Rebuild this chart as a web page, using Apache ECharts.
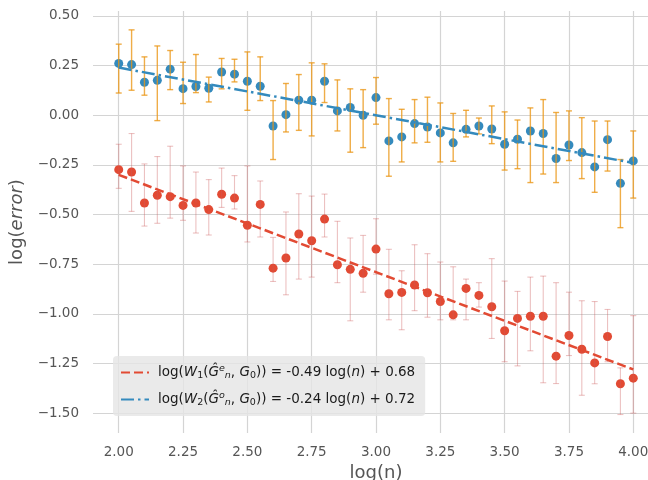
<!DOCTYPE html>
<html>
<head>
<meta charset="utf-8">
<script src="https://cdn.jsdelivr.net/npm/echarts@6/dist/echarts.min.js"></script>
<style>
html,body{margin:0;padding:0;background:#fff;}
#chart{width:648px;height:480px;}
</style>
</head>
<body>
<div id="chart"></div>
<script>
// ---- data ----
var xs = [2.00,2.05,2.10,2.15,2.20,2.25,2.30,2.35,2.40,2.45,2.50,2.55,2.60,2.65,2.70,2.75,2.80,2.85,2.90,2.95,3.00,
          3.05,3.10,3.15,3.20,3.25,3.30,3.35,3.40,3.45,3.50,3.55,3.60,3.65,3.70,3.75,3.80,3.85,3.90,3.95,4.00];

var blueMean = [0.261,0.255,0.166,0.176,0.232,0.134,0.145,0.136,0.218,0.207,0.171,0.146,-0.054,0.003,0.076,0.076,0.171,0.022,0.039,0.000,0.089,
                -0.129,-0.109,-0.042,-0.059,-0.089,-0.139,-0.071,-0.054,-0.069,-0.146,-0.121,-0.079,-0.092,-0.218,-0.150,-0.188,-0.260,-0.123,-0.343,-0.230];
var blueHigh = [0.358,0.430,0.294,0.349,0.326,0.267,0.306,0.192,0.286,0.282,0.319,0.294,0.074,0.160,0.205,0.264,0.259,0.178,0.133,0.129,0.190,
                0.084,0.030,0.079,0.091,0.062,0.009,0.025,-0.014,0.047,0.017,-0.024,0.037,0.079,0.014,0.022,-0.012,-0.029,-0.029,-0.223,-0.079];
var blueLow  = [0.112,0.126,0.101,-0.027,0.129,0.059,0.114,0.067,0.133,0.168,0.025,0.074,-0.223,-0.084,-0.076,-0.104,0.064,-0.079,-0.186,-0.163,-0.045,
                -0.307,-0.235,-0.139,-0.136,-0.235,-0.232,-0.109,-0.094,-0.143,-0.276,-0.269,-0.339,-0.296,-0.339,-0.228,-0.319,-0.388,-0.281,-0.566,-0.417];

var redMean = [-0.274,-0.286,-0.442,-0.403,-0.410,-0.454,-0.442,-0.475,-0.398,-0.417,-0.554,-0.449,-0.770,-0.719,-0.598,-0.632,-0.523,-0.753,-0.776,-0.796,-0.674,
               -0.899,-0.892,-0.855,-0.894,-0.938,-1.005,-0.872,-0.907,-0.964,-1.085,-1.023,-1.012,-1.012,-1.213,-1.109,-1.178,-1.247,-1.114,-1.352,-1.324];
var redHigh = [-0.146,-0.092,-0.245,-0.208,-0.156,-0.255,-0.286,-0.324,-0.266,-0.304,-0.255,-0.331,-0.615,-0.487,-0.395,-0.407,-0.397,-0.534,-0.618,-0.605,-0.521,
               -0.675,-0.783,-0.652,-0.697,-0.739,-0.763,-0.825,-0.843,-0.722,-0.835,-0.887,-0.815,-0.810,-0.843,-0.891,-0.934,-0.938,-0.978,-1.272,-1.009];
var redLow  = [-0.368,-0.484,-0.558,-0.544,-0.518,-0.529,-0.593,-0.603,-0.464,-0.472,-0.638,-0.613,-0.837,-0.904,-0.825,-0.815,-0.613,-0.843,-1.035,-0.891,-0.800,
               -1.030,-1.080,-0.984,-1.017,-1.030,-1.030,-1.030,-0.966,-1.124,-1.241,-1.262,-1.186,-1.347,-1.351,-1.210,-1.410,-1.352,-1.241,-1.507,-1.500];

// fitted lines (endpoints at log(n)=2 and log(n)=4)
var fitX = [2.0, 4.0];
var redFit = [-0.30, -1.28];
var blueFit = [0.24, -0.24];

var xTicks = [2.00,2.25,2.50,2.75,3.00,3.25,3.50,3.75,4.00];
var yTicks = [-1.50,-1.25,-1.00,-0.75,-0.50,-0.25,0.00,0.25,0.50];

var redName = 'W1 fit';
var blueName = 'W2 fit';

// ---- chart ----
var FONT = 'DejaVu Sans';
var chart = echarts.init(document.getElementById('chart'), null, {renderer: 'canvas'});

function pairs(a, b) { return a.map(function (v, i) { return [v, b[i]]; }); }
function triples(x, lo, hi) { return x.map(function (v, i) { return [v, lo[i], hi[i]]; }); }

function errRender(color, width) {
  return function (params, api) {
    var x = api.value(0);
    var top = api.coord([x, api.value(2)]);
    var bot = api.coord([x, api.value(1)]);
    var cap = 3;
    var st = {stroke: color, lineWidth: width, fill: null};
    return {
      type: 'group',
      children: [
        {type: 'line', shape: {x1: top[0], y1: top[1], x2: bot[0], y2: bot[1]}, style: st},
        {type: 'line', shape: {x1: top[0] - cap, y1: top[1], x2: top[0] + cap, y2: top[1]}, style: st},
        {type: 'line', shape: {x1: bot[0] - cap, y1: bot[1], x2: bot[0] + cap, y2: bot[1]}, style: st}
      ]
    };
  };
}

var LFS = 13.5;
var legendRich = {
  i: {fontFamily: FONT, fontStyle: 'italic', fontSize: LFS, color: '#1a1a1a'},
  s: {fontFamily: FONT, fontSize: 9.5, color: '#1a1a1a', padding: [7, 0, 0, 0]},
  si: {fontFamily: FONT, fontStyle: 'italic', fontSize: 9.5, color: '#1a1a1a', padding: [7, 0, 0, 0]},
  u: {fontFamily: FONT, fontStyle: 'italic', fontSize: 9.5, color: '#1a1a1a', padding: [0, 0, 7, 0]},
  t: {fontFamily: FONT, fontSize: LFS, color: '#1a1a1a'}
};

var option = {
  animation: false,
  backgroundColor: '#ffffff',
  grid: {left: 93, top: 11, width: 566, height: 422, containLabel: false, outerBoundsMode: 'none'},
  xAxis: {
    type: 'value', min: 1.9, max: 4.1,
    name: 'log(n)', nameLocation: 'middle', nameGap: 29,
    nameTextStyle: {fontFamily: FONT, fontSize: 18, color: '#555555'},
    axisLine: {show: false},
    axisTick: {show: false, customValues: xTicks},
    axisLabel: {customValues: xTicks, margin: 12, fontFamily: FONT, fontSize: 13.5, color: '#555555',
                formatter: function (v) { return v.toFixed(2); }},
    splitLine: {show: true, lineStyle: {color: '#d4d4d4', width: 1.2}}
  },
  yAxis: {
    type: 'value', min: -1.6, max: 0.525,
    name: 'log({i|error})', nameLocation: 'middle', nameGap: 61, nameRotate: 90,
    nameTextStyle: {fontFamily: FONT, fontSize: 18, color: '#555555',
      rich: {i: {fontFamily: FONT, fontStyle: 'italic', fontSize: 18, color: '#555555'}}},
    axisLine: {show: false},
    axisTick: {show: false, customValues: yTicks},
    axisLabel: {customValues: yTicks, margin: 14, fontFamily: FONT, fontSize: 13.5, color: '#555555',
                formatter: function (v) { return v.toFixed(2).replace('-', '\u2212'); }},
    splitLine: {show: true, lineStyle: {color: '#d4d4d4', width: 1.2}}
  },
  legend: {
    data: [redName, blueName],
    orient: 'vertical',
    left: 113, top: 356,
    padding: [8, 10, 8, 7],
    itemGap: 10,
    itemWidth: 28, itemHeight: 14,
    backgroundColor: 'rgba(229,229,229,0.82)',
    borderRadius: 4,
    itemStyle: {opacity: 0},
    textStyle: {fontFamily: FONT, fontSize: LFS, color: '#1a1a1a', padding: [0, 0, 0, 4], rich: legendRich},
    formatter: function (name) {
      if (name === redName) {
        return '{t|log(}{i|W}{s|1}{t|(}{i|Ĝ}{u|e}{si|n}{t|, }{i|G}{s|0}{t|)) = -0.49 log(}{i|n}{t|) + 0.68}';
      }
      return '{t|log(}{i|W}{s|2}{t|(}{i|Ĝ}{u|o}{si|n}{t|, }{i|G}{s|0}{t|)) = -0.24 log(}{i|n}{t|) + 0.72}';
    }
  },
  series: [
    {
      type: 'scatter', name: 'red points', data: pairs(xs, redMean),
      symbol: 'circle', symbolSize: 9, z: 2,
      itemStyle: {color: '#E24A33', opacity: 1}
    },
    {
      type: 'scatter', name: 'blue points', data: pairs(xs, blueMean),
      symbol: 'circle', symbolSize: 9, z: 2,
      itemStyle: {color: '#348ABD', opacity: 1}
    },
    {
      type: 'custom', name: 'red err', data: triples(xs, redLow, redHigh), z: 3,
      renderItem: errRender('rgba(205,92,92,0.38)', 1.1)
    },
    {
      type: 'custom', name: 'blue err', data: triples(xs, blueLow, blueHigh), z: 3,
      renderItem: errRender('rgba(235,150,20,0.78)', 1.4)
    },
    {
      type: 'line', name: redName, data: pairs(fitX, redFit), z: 4,
      symbol: 'none', showSymbol: false,
      lineStyle: {color: '#E24A33', width: 2.5, type: [9, 4]},
      itemStyle: {color: '#E24A33'}
    },
    {
      type: 'line', name: blueName, data: pairs(fitX, blueFit), z: 4,
      symbol: 'none', showSymbol: false,
      lineStyle: {color: '#348ABD', width: 2.5, type: [13, 4, 2.5, 4]},
      itemStyle: {color: '#348ABD'}
    }
  ]
};
chart.setOption(option);
</script>
</body>
</html>
